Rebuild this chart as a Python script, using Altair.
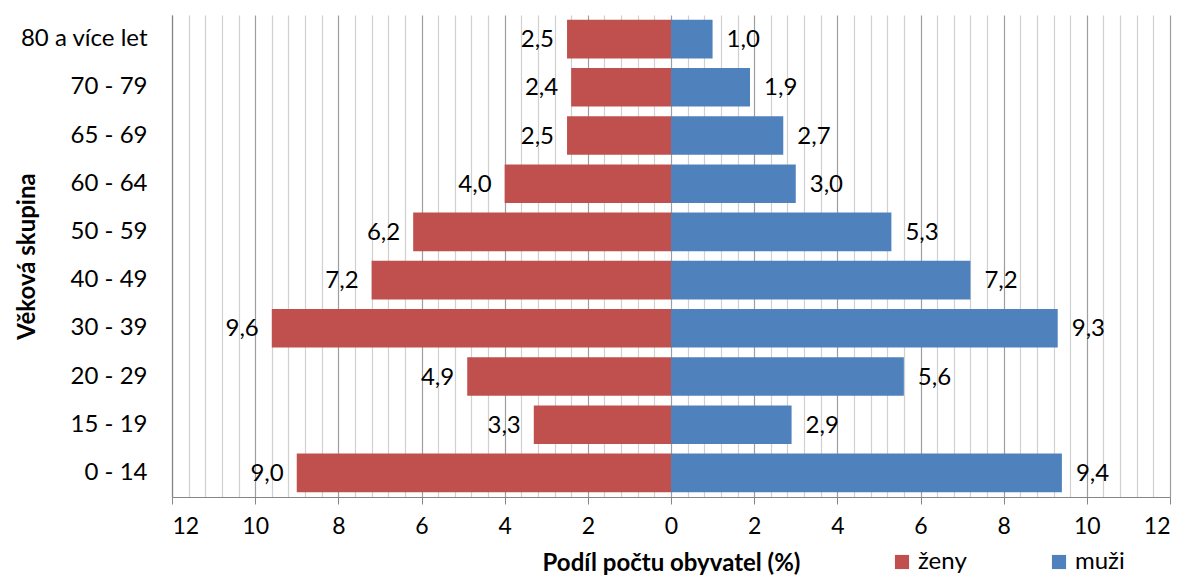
import altair as alt
import pandas as pd

# ---- data ----
categories = ["80 a více let", "70 - 79", "65 - 69", "60 - 64", "50 - 59",
              "40 - 49", "30 - 39", "20 - 29", "15 - 19", "0 - 14"]
zeny = [2.5, 2.4, 2.5, 4.0, 6.2, 7.2, 9.6, 4.9, 3.3, 9.0]
muzi = [1.0, 1.9, 2.7, 3.0, 5.3, 7.2, 9.3, 5.6, 2.9, 9.4]
series = ["ženy", "muži"]
colors = ["#C0504D", "#4F81BD"]
# axis ticks: minor gridline every 0.4, labelled major tick every 2
tick_values = [round(-12 + 0.4 * i, 1) for i in range(61)]

rows = []
for c, z, m in zip(categories, zeny, muzi):
    rows.append({"skupina": c, "pohlavi": "ženy", "hodnota": -z,
                 "popisek": f"{z:.1f}".replace(".", ",")})
    rows.append({"skupina": c, "pohlavi": "muži", "hodnota": m,
                 "popisek": f"{m:.1f}".replace(".", ",")})
df = pd.DataFrame(rows)

FONT = "Lato"
MAJOR = "abs(datum.value % 2) < 0.001"

x_enc = alt.X(
    "hodnota:Q",
    scale=alt.Scale(domain=[-12, 12], nice=False, zero=False),
    title="Podíl počtu obyvatel (%)",
    axis=alt.Axis(
        values=tick_values,
        tickCount=len(tick_values),
        labelExpr=f"{MAJOR} ? format(abs(datum.value), 'd') : ''",
        labelOverlap=False,
        labelFontSize=23,
        labelColor="#000000",
        labelPadding=11,
        labelFont=FONT,
        grid=True,
        gridColor={"condition": {"test": MAJOR, "value": "#9e9e9e"}, "value": "#d0d0d0"},
        gridWidth=1.2,
        tickOpacity={"condition": {"test": MAJOR, "value": 1}, "value": 0},
        tickSize=7,
        tickColor="#868686",
        domainColor="#868686",
        domainWidth=1.2,
        titleFont=FONT,
        titleFontSize=24,
        titleFontWeight="bold",
        titleColor="#000000",
        titleY=66,
        titleBaseline="middle",
    ),
)

y_enc = alt.Y(
    "skupina:N",
    sort=categories,
    scale=alt.Scale(paddingInner=0.2, paddingOuter=0.1),
    title="Věková skupina",
    axis=alt.Axis(
        ticks=False,
        labelPadding=25,
        labelFontSize=24,
        labelFont=FONT,
        labelColor="#000000",
        domainColor="#868686",
        domainWidth=1.2,
        titleFont=FONT,
        titleFontSize=24,
        titleFontWeight="bold",
        titleColor="#000000",
        titleX=-145,
        titleBaseline="middle",
        titleAngle=270,
    ),
)

bars = alt.Chart(df).mark_bar().encode(
    x=x_enc,
    y=y_enc,
    color=alt.Color(
        "pohlavi:N",
        scale=alt.Scale(domain=series, range=colors),
        legend=alt.Legend(
            title=None,
            orient="none",
            legendX=718,
            legendY=535,
            direction="horizontal",
            symbolType="square",
            symbolSize=200,
            symbolStrokeWidth=0,
            symbolOpacity=1,
            labelFont=FONT,
            labelFontSize=24,
            labelColor="#000000",
            labelOffset=4,
            columnPadding=80,
        ),
    ),
)

text_base = alt.Chart(df)
text_f = text_base.transform_filter("datum.pohlavi == 'ženy'").mark_text(
    align="right", baseline="middle", dx=-13, dy=1, font=FONT, fontSize=24, color="#000000"
).encode(x="hodnota:Q", y=alt.Y("skupina:N", sort=categories), text="popisek:N")
text_m = text_base.transform_filter("datum.pohlavi == 'muži'").mark_text(
    align="left", baseline="middle", dx=14, dy=1, font=FONT, fontSize=24, color="#000000"
).encode(x="hodnota:Q", y=alt.Y("skupina:N", sort=categories), text="popisek:N")

chart = (
    alt.layer(bars, text_f, text_m)
    .properties(
        width=998,
        height=482,
        autosize=alt.AutoSizeParams(type="none"),
        padding={"left": 164, "top": 7, "right": 7, "bottom": 78},
        background="#ffffff",
    )
    .configure_view(strokeWidth=0)
)

chart.save("out.html", embed_options={"renderer": "svg", "actions": False})
